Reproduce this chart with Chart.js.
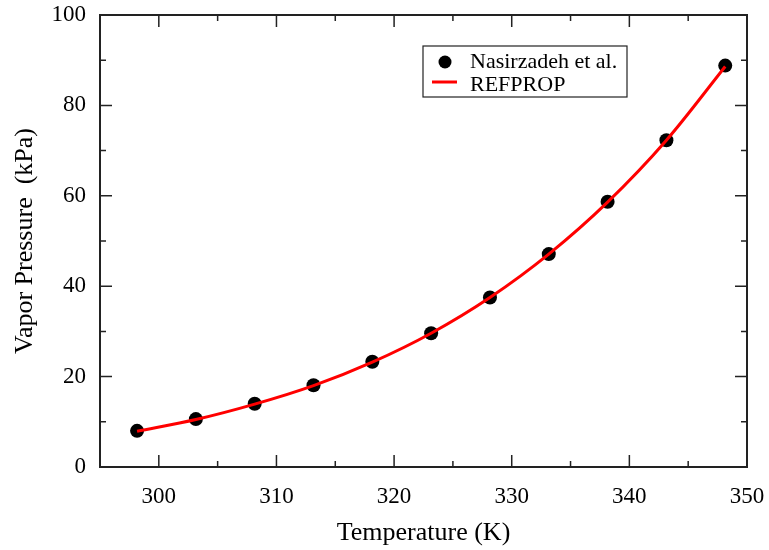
<!DOCTYPE html>
<html>
<head>
<meta charset="utf-8">
<script src="https://cdn.jsdelivr.net/npm/chart.js@4"></script>
<style>
  html, body { margin: 0; padding: 0; background: #fff; }
  #wrap { width: 769px; height: 550px; }
</style>
</head>
<body>
<div id="wrap"><canvas id="vp"></canvas></div>
<script>
// measured points (Nasirzadeh et al.)
const expT = [298.15, 303.15, 308.15, 313.15, 318.15, 323.15, 328.15, 333.15, 338.15, 343.15, 348.15];
const expP = [8.0, 10.6, 14.0, 18.1, 23.3, 29.6, 37.5, 47.1, 58.7, 72.3, 88.8];

// REFPROP curve
const refT = [298.15, 303.15, 308.15, 313.15, 318.15, 323.15, 328.15, 333.15, 338.15, 343.15, 348.15];
const refP = [7.9, 10.5, 13.9, 18.0, 23.2, 29.6, 37.5, 47.1, 58.6, 72.3, 88.6];

const xTicks = [300, 310, 320, 330, 340, 350];
const yTicks = [0, 20, 40, 60, 80, 100];
const xMinor = [295, 305, 315, 325, 335, 345];
const yMinor = [10, 30, 50, 70, 90];

const serif = "'Liberation Serif', 'DejaVu Serif', serif";

// frame + inward ticks on all four sides
const frameTicks = {
    id: 'frameTicks',
    afterDraw(chart) {
        const { ctx, chartArea: a, scales: { x, y } } = chart;
        ctx.save();
        ctx.strokeStyle = '#222';
        ctx.lineWidth = 1.5;
        const tick = (vals, len) => {
            vals.forEach(v => {
                const px = x.getPixelForValue(v);
                if (px > a.left + 1 && px < a.right - 1) {
                    ctx.beginPath();
                    ctx.moveTo(px, a.bottom); ctx.lineTo(px, a.bottom - len);
                    ctx.moveTo(px, a.top); ctx.lineTo(px, a.top + len);
                    ctx.stroke();
                }
            });
        };
        const tickY = (vals, len) => {
            vals.forEach(v => {
                const py = y.getPixelForValue(v);
                if (py > a.top + 1 && py < a.bottom - 1) {
                    ctx.beginPath();
                    ctx.moveTo(a.left, py); ctx.lineTo(a.left + len, py);
                    ctx.moveTo(a.right, py); ctx.lineTo(a.right - len, py);
                    ctx.stroke();
                }
            });
        };
        tick(xTicks, 12); tick(xMinor, 6);
        tickY(yTicks, 12); tickY(yMinor, 6);
        ctx.lineWidth = 2;
        ctx.strokeRect(a.left, a.top, a.right - a.left, a.bottom - a.top);
        ctx.restore();
    }
};

// boxed legend inside the plot
const boxLegend = {
    id: 'boxLegend',
    afterDraw(chart) {
        const ctx = chart.ctx;
        const ref = chart.data.datasets[0], exp = chart.data.datasets[1];
        ctx.save();
        ctx.fillStyle = '#fff';
        ctx.fillRect(423, 46, 204, 51);
        ctx.strokeStyle = '#222';
        ctx.lineWidth = 1.2;
        ctx.strokeRect(423, 46, 204, 51);

        ctx.fillStyle = exp.backgroundColor;
        ctx.beginPath();
        ctx.arc(445, 62, 6.5, 0, Math.PI * 2);
        ctx.fill();

        ctx.strokeStyle = ref.borderColor;
        ctx.lineWidth = 3;
        ctx.beginPath();
        ctx.moveTo(432, 82); ctx.lineTo(457, 82);
        ctx.stroke();

        ctx.fillStyle = '#000';
        ctx.font = '22px ' + serif;
        ctx.textBaseline = 'alphabetic';
        ctx.fillText(exp.label, 470, 68);
        ctx.fillText(ref.label, 470, 91);
        ctx.restore();
    }
};

new Chart(document.getElementById('vp'), {
    type: 'scatter',
    data: {
        datasets: [
            {
                label: 'REFPROP',
                data: refT.map((t, i) => ({ x: t, y: refP[i] })),
                showLine: true,
                borderColor: '#ff0000',
                borderWidth: 3,
                pointRadius: 0,
                cubicInterpolationMode: 'monotone',
                order: 0
            },
            {
                label: 'Nasirzadeh et al.',
                data: expT.map((t, i) => ({ x: t, y: expP[i] })),
                backgroundColor: '#000',
                borderWidth: 0,
                pointRadius: 7,
                order: 1
            }
        ]
    },
    options: {
        responsive: true,
        maintainAspectRatio: false,
        animation: false,
        layout: { padding: { left: 0, top: 15, right: 22, bottom: 0 } },
        plugins: {
            legend: { display: false },
            tooltip: { enabled: false }
        },
        scales: {
            x: {
                type: 'linear',
                min: 295, max: 350,
                afterBuildTicks: s => { s.ticks = xTicks.map(v => ({ value: v })); },
                afterFit: s => { s.height = 83; s.paddingLeft = 0; s.paddingRight = 0; },
                grid: { display: false },
                border: { display: false },
                ticks: { color: '#000', padding: 8, font: { family: serif, size: 23 } },
                title: {
                    display: true,
                    text: 'Temperature (K)',
                    color: '#000',
                    padding: { top: 0, bottom: 1 },
                    font: { family: serif, size: 26 }
                }
            },
            y: {
                min: 0, max: 100,
                afterBuildTicks: s => { s.ticks = yTicks.map(v => ({ value: v })); },
                afterFit: s => { s.width = 100; s.paddingTop = 0; s.paddingBottom = 0; },
                grid: { display: false },
                border: { display: false },
                ticks: { color: '#000', padding: 6, font: { family: serif, size: 23 } },
                title: {
                    display: true,
                    text: 'Vapor Pressure  (kPa)',
                    color: '#000',
                    padding: { top: 10, bottom: 0 },
                    font: { family: serif, size: 26 }
                }
            }
        }
    },
    plugins: [frameTicks, boxLegend]
});
</script>
</body>
</html>
